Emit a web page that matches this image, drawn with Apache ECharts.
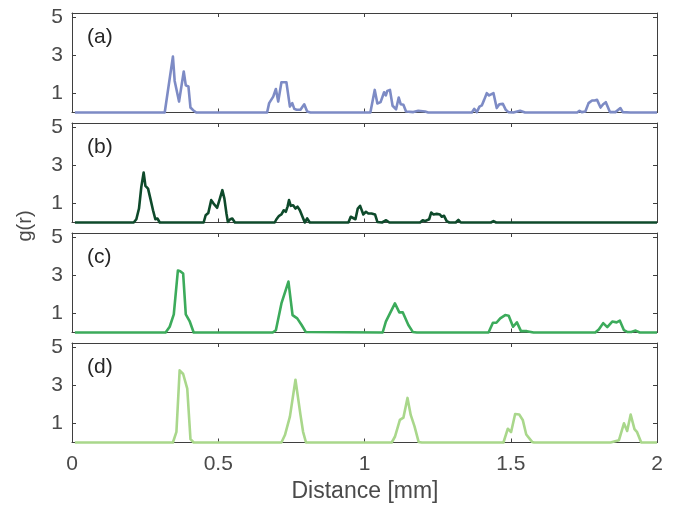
<!DOCTYPE html>
<html>
<head>
<meta charset="utf-8">
<script src="https://cdn.jsdelivr.net/npm/echarts@6/dist/echarts.min.js"></script>
<style>
html,body{margin:0;padding:0;background:#fff;}
#c{width:674px;height:505px;}
</style>
</head>
<body>
<div id="c"></div>
<script>
// ---- data ----
var xTicks = [0, 0.5, 1, 1.5, 2];
var yTicks = [1, 3, 5];
var panelLabels = ['(a)', '(b)', '(c)', '(d)'];

var distA = [0.01, 0.317,0.345,0.351,0.366,0.382,0.389,0.398,0.405,0.414,0.425,
  0.667,0.674,0.688,0.697,0.705,0.716,0.722,0.733,0.745,0.753,0.760,0.768,0.781,0.794,0.804,0.815,
  1.020,1.035,1.044,1.055,1.067,1.073,1.078,1.087,1.096,1.108,1.117,1.124,1.133,1.142,1.167,1.184,1.207,1.218,
  1.367,1.375,1.384,1.393,1.401,1.409,1.418,1.426,1.432,1.441,1.452,1.461,1.473,1.483,1.492,1.509,1.532,1.549,
  1.727,1.735,1.743,1.755,1.766,1.778,1.787,1.795,1.807,1.816,1.825,1.839,1.858,1.875,1.883,1.909,2.0];
var gA = [0, 0,2.92,1.65,0.57,2.14,1.42,1.36,0.26,0.12,0,
  0,0.49,0.83,1.23,0.57,1.58,1.66,1.58,0.31,0.49,0.19,0.14,0.14,0.43,0.05,0,
  0,1.18,0.47,0.54,1.06,0.89,1.13,1.18,0.35,0.17,0.78,0.43,0.40,0.05,0.02,0.09,0.05,0,
  0,0.19,0.02,0.31,0.37,0.66,1.01,0.89,0.83,1.01,0.23,0.43,0.45,0.14,0.02,0,0.09,0,
  0,0.09,0.02,0.05,0.49,0.63,0.63,0.66,0.26,0.43,0.54,0.02,0.02,0.23,0.02,0,0];

var distB = [0.01, 0.211,0.220,0.229,0.237,0.245,0.251,0.254,0.260,0.268,0.277,0.285,0.292,0.300,
  0.450,0.457,0.466,0.476,0.484,0.496,0.505,0.514,0.521,0.528,0.533,0.541,0.548,0.557,
  0.693,0.699,0.708,0.716,0.724,0.731,0.737,0.742,0.748,0.756,0.764,0.771,0.779,0.788,0.796,0.804,0.813,
  0.945,0.953,0.959,0.969,0.977,0.985,0.991,0.996,1.005,1.013,1.024,1.036,1.044,1.060,1.074,1.085,
  1.190,1.199,1.207,1.213,1.221,1.228,1.236,1.247,1.258,1.264,1.272,1.281,1.290,1.312,1.321,1.329,1.432,1.441,1.450,2.0];
var gB = [0, 0,0.17,0.73,1.86,2.61,1.91,1.98,1.77,1.25,0.64,0.17,0.21,0,
  0,0.38,0.50,1.17,0.99,0.77,1.22,1.69,1.25,0.47,0.03,0.17,0.21,0,
  0,0.17,0.35,0.42,0.64,0.56,0.83,1.17,0.87,0.90,0.73,0.83,0.64,0.30,0,0.21,0,
  0,0.30,0.30,0.17,0.73,0.87,0.82,0.42,0.56,0.47,0.47,0.42,0.03,0,0.12,0,
  0,0.12,0.07,0.17,0.17,0.52,0.42,0.45,0.42,0.30,0.35,0.07,0,0,0.14,0,0,0.07,0,0];

var distC = [0.01, 0.320,0.334,0.348,0.362,0.370,0.380,0.389,0.402,0.416,
  0.686,0.697,0.716,0.740,0.754,0.770,0.785,0.799,
  1.062,1.073,1.104,1.119,1.131,1.150,1.165,1.179,
  1.424,1.439,1.451,1.464,1.481,1.493,1.508,1.521,1.535,1.555,1.578,
  1.789,1.801,1.816,1.830,1.847,1.862,1.873,1.887,1.898,1.912,1.927,1.941,2.0];
var gC = [0, 0,0.30,0.95,3.24,3.20,3.08,0.95,0.60,0,
  0,0.12,1.52,2.66,0.91,0.74,0.39,0.03,
  0,0.57,1.52,1.05,1.05,0.39,0.03,0,
  0,0.51,0.51,0.74,0.91,0.88,0.30,0.53,0.07,0.07,0,
  0,0.16,0.49,0.28,0.57,0.53,0.62,0.12,0.03,0.03,0.10,0,0];

var distD = [0.01, 0.345,0.357,0.368,0.380,0.394,0.405,0.416,
  0.716,0.728,0.745,0.764,0.781,0.790,0.800,
  1.093,1.104,1.121,1.133,1.147,1.158,1.171,1.185,1.196,
  1.475,1.490,1.501,1.515,1.529,1.541,1.553,1.573,1.580,
  1.841,1.870,1.887,1.898,1.910,1.923,1.932,1.946,2.0];
var gD = [0, 0,0.56,3.77,3.58,2.82,0.18,0,
  0,0.39,1.35,3.28,1.46,0.56,0,
  0,0.30,1.18,1.30,2.33,1.44,0.84,0.03,0,
  0,0.72,0.54,1.49,1.46,1.18,0.42,0.03,0,
  0,0.12,1.00,0.60,1.46,0.70,0.54,0,0];

// ---- chart ----
var FONT = '"Liberation Sans", Arial, Helvetica, sans-serif';
var AXC = '#3f3f3f';
var LABC = '#4a4a4a';
var panels = [
  {x: distA, y: gA, color: '#7d8bc5'},
  {x: distB, y: gB, color: '#0e4a2b'},
  {x: distC, y: gC, color: '#3cab5b'},
  {x: distD, y: gD, color: '#a9d78b'}
];
function pairs(xs, ys) { return xs.map(function (x, i) { return [x, ys[i]]; }); }

var grids = [], xAxes = [], yAxes = [], series = [], graphics = [];
panels.forEach(function (p, i) {
  var top = 13 + 110 * i;
  grids.push({left: 72, width: 585, top: top, height: 99.5, outerBoundsMode: 'none', containLabel: false});
  ['bottom', 'top'].forEach(function (pos) {
    xAxes.push({
      type: 'value', gridIndex: i, position: pos, min: 0, max: 2, interval: 0.5,
      axisLine: {show: true, onZero: false, lineStyle: {color: AXC, width: 1}},
      axisTick: {show: true, inside: true, length: 4, lineStyle: {color: AXC, width: 1}},
      axisLabel: {show: pos === 'bottom' && i === 3, fontSize: 21, color: LABC, fontFamily: FONT, margin: 11,
        customValues: xTicks, formatter: function (v) { return String(v); }},
      splitLine: {show: false}
    });
  });
  ['left', 'right'].forEach(function (pos) {
    yAxes.push({
      type: 'value', gridIndex: i, position: pos, min: 0, max: 5.2,
      axisLine: {show: true, onZero: false, lineStyle: {color: AXC, width: 1}},
      axisTick: {show: true, inside: true, length: 4, customValues: yTicks, lineStyle: {color: AXC, width: 1}},
      axisLabel: {show: pos === 'left', fontSize: 21, color: LABC, fontFamily: FONT, margin: 9, customValues: yTicks},
      splitLine: {show: false}
    });
  });
  series.push({
    type: 'line', xAxisIndex: 2 * i, yAxisIndex: 2 * i,
    data: pairs(p.x, p.y), showSymbol: false, symbol: 'none', clip: false,
    lineStyle: {color: p.color, width: 2.6, join: 'round'}, itemStyle: {color: p.color}, z: 5
  });
  graphics.push({
    type: 'text', x: 87, y: 37 + 110 * i,
    style: {text: panelLabels[i], fontSize: 21, fontFamily: FONT, fill: '#262626',
      textAlign: 'left', textVerticalAlign: 'middle', align: 'left', verticalAlign: 'middle'}
  });
});
graphics.push({
  type: 'text', x: 25, y: 226, rotation: Math.PI / 2,
  style: {text: 'g(r)', fontSize: 20, fontFamily: FONT, fill: LABC,
    textAlign: 'center', textVerticalAlign: 'middle', align: 'center', verticalAlign: 'middle'}
});
graphics.push({
  type: 'text', x: 365, y: 492,
  style: {text: 'Distance [mm]', fontSize: 23, fontFamily: FONT, fill: LABC,
    textAlign: 'center', textVerticalAlign: 'middle', align: 'center', verticalAlign: 'middle'}
});

var chart = echarts.init(document.getElementById('c'), null, {renderer: 'canvas'});
chart.setOption({
  animation: false,
  backgroundColor: '#ffffff',
  grid: grids, xAxis: xAxes, yAxis: yAxes, series: series, graphic: graphics
});
</script>
</body>
</html>
